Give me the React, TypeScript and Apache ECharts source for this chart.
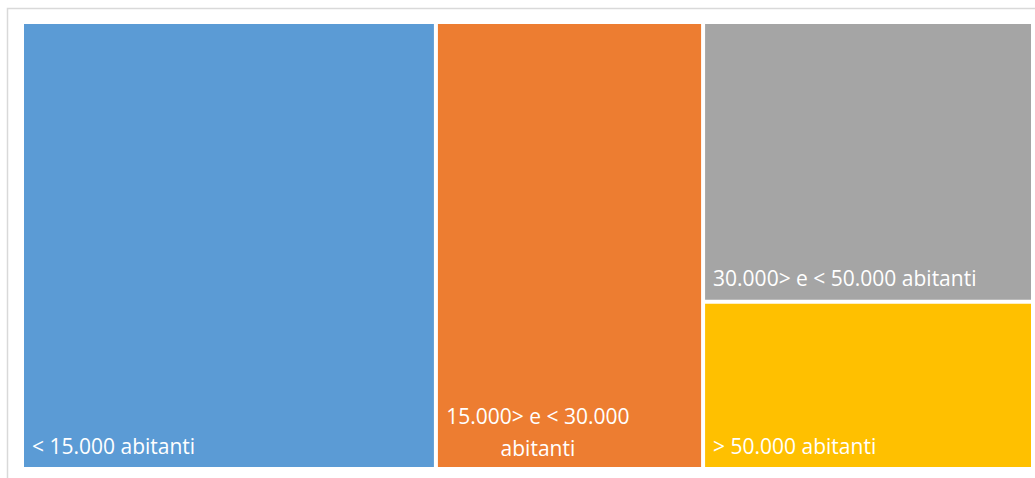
import React, { useEffect, useRef } from "react";
import * as echarts from "echarts";

const categories = [
  "< 15.000 abitanti",
  "15.000> e < 30.000 abitanti",
  "30.000> e < 50.000 abitanti",
  "> 50.000 abitanti",
];
const values = [40.9, 26.4, 20.4, 12.2];
const colors = ["#5B9BD5", "#ED7D31", "#A5A5A5", "#FFC000"];

export default function App() {
  const ref = useRef<HTMLDivElement>(null);
  useEffect(() => {
    if (!ref.current) return;
    const chart = echarts.init(ref.current, null, { renderer: "svg" });
    const font = "'Open Sans', sans-serif";
    const data = categories.map((name, i) => {
      const d: any = {
        name,
        value: values[i],
        itemStyle: { color: colors[i] },
      };
      if (i === 1) {
        d.label = {
          formatter: "15.000> e < 30.000\nabitanti",
          position: ["38%", "92%"],
          align: "center",
          verticalAlign: "middle",
          lineHeight: 32,
          offset: [0, 0],
        };
      }
      return d;
    });
    chart.setOption({
      animation: false,
      backgroundColor: "#ffffff",
      graphic: [
        {
          type: "rect",
          shape: { x: 7.5, y: 8.5, width: 1100, height: 500 },
          style: { fill: "none", stroke: "#d9d9d9", lineWidth: 1.5 },
          silent: true,
        },
      ],
      series: [
        {
          type: "treemap",
          left: 24,
          top: 24,
          width: 1007,
          height: 443,
          roam: false,
          nodeClick: false,
          breadcrumb: { show: false },
          sort: "desc",
          squareRatio: 1,
          label: {
            show: true,
            position: "insideBottomLeft",
            distance: 3,
            offset: [0, -3],
            color: "#ffffff",
            fontSize: 21,
            fontFamily: font,
            formatter: "{b}",
          },
          upperLabel: { show: false },
          levels: [
            { itemStyle: { borderWidth: 0, gapWidth: 4, borderColor: "#ffffff" } },
            { itemStyle: { borderWidth: 0, gapWidth: 0 } },
          ],
          data,
        },
      ],
    });
    return () => chart.dispose();
  }, []);
  return (
    <div
      ref={ref}
      style={{ position: "fixed", left: 0, top: 0, width: 1035, height: 478, background: "#fff" }}
    />
  );
}
